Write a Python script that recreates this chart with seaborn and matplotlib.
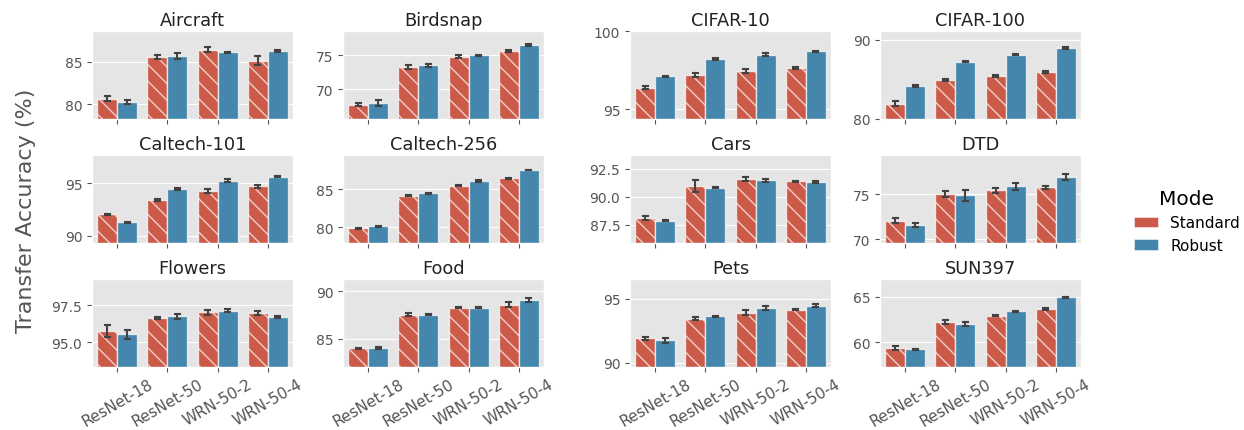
"""
Transfer accuracy of standard vs. robust ImageNet models on 12 datasets.
"""

import numpy as np
import pandas as pd
import matplotlib
matplotlib.use('Agg')
import matplotlib.pyplot as plt
import matplotlib.patches as mpatches
from matplotlib.container import BarContainer
import seaborn as sns

datasets = ['Aircraft', 'Birdsnap', 'CIFAR-10', 'CIFAR-100',
            'Caltech-101', 'Caltech-256', 'Cars', 'DTD',
            'Flowers', 'Food', 'Pets', 'SUN397']
models = ['ResNet-18', 'ResNet-50', 'WRN-50-2', 'WRN-50-4']
modes = ['Standard', 'Robust']

# mean accuracy, one row per dataset, columns follow `models`
standard_mean = [
    [80.70, 85.52, 86.41, 85.12],
    [67.75, 73.28, 74.80, 75.63],
    [96.38, 97.17, 97.44, 97.64],
    [81.90, 84.89, 85.40, 85.90],
    [92.06, 93.41, 94.28, 94.72],
    [79.83, 84.13, 85.47, 86.43],
    [88.08, 90.96, 91.58, 91.37],
    [72.08, 75.04, 75.47, 75.77],
    [95.76, 96.63, 97.03, 96.99],
    [83.99, 87.53, 88.26, 88.59],
    [91.92, 93.46, 93.92, 94.15],
    [59.35, 62.21, 62.93, 63.66],
]
robust_mean = [
    [80.30, 85.67, 86.10, 86.25],
    [68.00, 73.53, 75.00, 76.47],
    [97.09, 98.19, 98.49, 98.70],
    [84.14, 87.22, 88.10, 88.90],
    [91.28, 94.47, 95.25, 95.62],
    [80.09, 84.43, 86.08, 87.52],
    [87.88, 90.82, 91.46, 91.32],
    [71.60, 74.89, 75.88, 76.93],
    [95.54, 96.76, 97.14, 96.72],
    [83.99, 87.50, 88.26, 89.07],
    [91.77, 93.64, 94.26, 94.46],
    [59.24, 62.03, 63.41, 64.96],
]
# half-width of the error bars
standard_err = [
    [0.30, 0.23, 0.30, 0.50],
    [0.27, 0.32, 0.20, 0.20],
    [0.12, 0.13, 0.15, 0.05],
    [0.27, 0.12, 0.10, 0.07],
    [0.05, 0.07, 0.19, 0.15],
    [0.05, 0.07, 0.10, 0.07],
    [0.19, 0.53, 0.17, 0.05],
    [0.27, 0.38, 0.27, 0.20],
    [0.39, 0.05, 0.16, 0.15],
    [0.05, 0.12, 0.07, 0.24],
    [0.13, 0.15, 0.22, 0.05],
    [0.20, 0.20, 0.10, 0.10],
]
robust_err = [
    [0.23, 0.39, 0.10, 0.10],
    [0.39, 0.20, 0.10, 0.17],
    [0.05, 0.07, 0.10, 0.05],
    [0.10, 0.10, 0.05, 0.12],
    [0.05, 0.10, 0.17, 0.05],
    [0.10, 0.10, 0.08, 0.05],
    [0.05, 0.05, 0.10, 0.05],
    [0.20, 0.58, 0.35, 0.37],
    [0.32, 0.18, 0.10, 0.09],
    [0.07, 0.05, 0.05, 0.17],
    [0.20, 0.05, 0.17, 0.10],
    [0.05, 0.20, 0.05, 0.05],
]
y_limits = [
    (78.36, 88.60), (65.70, 78.57), (94.40, 100.00), (80.00, 91.09),
    (89.38, 97.68), (77.96, 89.51), (85.92, 93.73), (69.64, 79.38),
    (93.35, 99.29), (82.05, 91.28), (89.72, 96.54), (57.32, 66.96),
]
y_ticks = [
    [80, 85], [70, 75], [95, 100], [80, 90],
    [90, 95], [80, 85], [87.5, 90.0, 92.5], [70, 75],
    [95.0, 97.5], [85, 90], [90, 95], [60, 65],
]

palette = {'Standard': '#E24A33', 'Robust': '#348ABD'}
edge = (1, 1, 1, 0.7)

# long table: two rows per bar (mean - err, mean + err) so that seaborn's
# estimator gives the mean and a min/max errorbar gives the interval
rows = []
for d, name in enumerate(datasets):
    for mode, means, errs in [('Standard', standard_mean, standard_err),
                              ('Robust', robust_mean, robust_err)]:
        for m, model in enumerate(models):
            for sign in (-1, 1):
                rows.append({'dataset': name, 'model': model, 'mode': mode,
                             'acc': means[d][m] + sign * errs[d][m]})
df = pd.DataFrame(rows)

plt.style.use('ggplot')
plt.rcParams['font.family'] = ['DejaVu Sans']

fig, axes = plt.subplots(3, 4, sharex=True, figsize=(12.44, 4.31), dpi=100)

# panel placement in pixels (left edges per column, top edges per row)
W, H = 1244, 431
lefts = [92, 343, 630, 880]
tops = [32, 156, 280]
aw, ah = 201, 87.5

for i, ax in enumerate(axes.flat):
    sub = df[df['dataset'] == datasets[i]]
    sns.barplot(data=sub, x='model', y='acc', hue='mode', order=models,
                hue_order=modes, palette=palette, ax=ax, legend=False,
                errorbar=lambda v: (v.min(), v.max()), capsize=0.2,
                err_kws={'color': '.26', 'linewidth': 1.5})
    bars = [c for c in ax.containers if isinstance(c, BarContainer)]
    for k, cont in enumerate(bars):
        for p in cont:
            p.set_edgecolor(edge)
            p.set_linewidth(1)
            if k == 0:
                p.set_hatch('\\\\')
    ax.set_ylim(*y_limits[i])
    ax.set_yticks(y_ticks[i])
    ax.set_title(datasets[i], fontsize=12.8, color='#222222', pad=4)
    ax.set_xlabel('')
    ax.set_ylabel('')
    ax.tick_params(axis='both', colors='#555555')
    ax.tick_params(axis='y', labelsize=10)
    ax.tick_params(axis='x', labelsize=11, labelrotation=30)
    r, c = divmod(i, 4)
    ax.set_position([lefts[c] / W, 1 - (tops[r] + ah) / H, aw / W, ah / H])

fig.text(0.021, 0.51, 'Transfer Accuracy (%)', rotation=90, va='center',
         ha='center', fontsize=16, color='#555555')

handles = [mpatches.Patch(facecolor=sns.desaturate(palette[m], 0.75),
                          edgecolor=edge, label=m) for m in modes]
fig.legend(handles=handles, title='Mode', loc='center left',
           bbox_to_anchor=(1120 / W, 0.485), frameon=False, fontsize=11,
           title_fontsize=14.5, handlelength=1.6)

fig.savefig('out.png', dpi=100)
